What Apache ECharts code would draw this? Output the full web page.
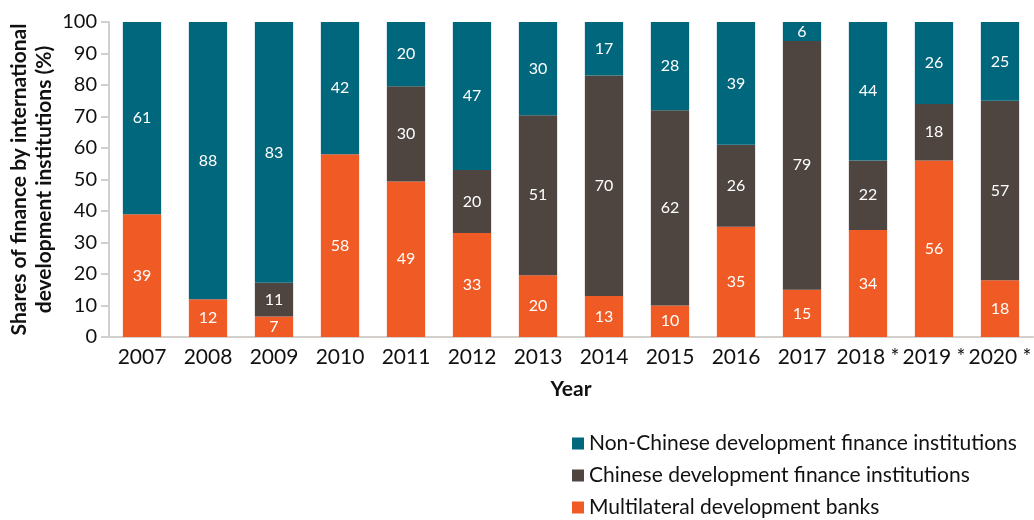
<!DOCTYPE html>
<html>
<head>
<meta charset="utf-8">
<script src="https://cdn.jsdelivr.net/npm/echarts@6/dist/echarts.min.js"></script>
<style>
  html, body { margin: 0; padding: 0; background: #fff; }
  #main { width: 1034px; height: 520px; }
</style>
</head>
<body>
<div id="main"></div>
<script>
// data (shares in %, labels are rounded)
var years = ['2007', '2008', '2009', '2010', '2011', '2012', '2013', '2014', '2015', '2016', '2017', '2018 *', '2019 *', '2020 *'];
var multilateral = [39, 12, 6.5, 58, 49.4, 33, 19.6, 13, 10, 35, 15, 34, 56, 18];
var chinese = [0, 0, 10.7, 0, 30.2, 20, 50.8, 70, 62, 26, 79, 22, 18, 57];
var nonChinese = [61, 88, 82.8, 42, 20.4, 47, 29.6, 17, 28, 39, 6, 44, 26, 25];
var yTicks = [0, 10, 20, 30, 40, 50, 60, 70, 80, 90, 100];

var myChart = echarts.init(document.getElementById('main'));
var font = 'Lato, "Open Sans", sans-serif';

function labelOpt() {
    return {
        show: true,
        color: '#fff',
        fontSize: 16,
        fontFamily: font,
        formatter: function (p) { return p.value > 0 ? Math.round(p.value) : ''; }
    };
}

var option = {
    animation: false,
    textStyle: { fontFamily: font },
    grid: { left: 109, right: 1, top: 22, bottom: 183, outerBoundsMode: 'none', containLabel: false },
    legend: {
        orient: 'vertical',
        left: 567,
        top: 428,
        width: 460,
        height: 100,
        itemWidth: 12,
        itemHeight: 12,
        itemGap: 11,
        icon: 'rect',
        data: ['Non-Chinese development finance institutions', 'Chinese development finance institutions', 'Multilateral development banks'],
        textStyle: { fontSize: 21, color: '#111', fontFamily: font }
    },
    xAxis: {
        type: 'category',
        data: years,
        name: 'Year',
        nameLocation: 'middle',
        nameGap: 42,
        nameTextStyle: { fontSize: 21, fontWeight: 'bold', color: '#111' },
        axisLine: { lineStyle: { color: '#d3cfcc', width: 2 } },
        axisTick: { show: false },
        axisLabel: { fontSize: 21, color: '#111', margin: 10, interval: 0 }
    },
    yAxis: {
        type: 'value',
        min: 0,
        max: 100,
        interval: 10,
        name: 'Shares of finance by international\ndevelopment institutions (%)',
        nameLocation: 'middle',
        nameGap: 52,
        nameMoveOverlap: false,
        nameTextStyle: { fontSize: 21, fontWeight: 'bold', color: '#111', lineHeight: 25 },
        axisLine: { show: true, lineStyle: { color: '#d3cfcc', width: 2 } },
        axisTick: { show: true, length: 8, lineStyle: { color: '#d3cfcc', width: 2 } },
        axisLabel: {
            fontSize: 20, color: '#111', margin: 12,
            formatter: function (v) { return yTicks.indexOf(v) >= 0 ? v : ''; }
        },
        splitLine: { show: false }
    },
    series: [
        {
            name: 'Multilateral development banks',
            type: 'bar',
            stack: 'total',
            barWidth: '58%',
            data: multilateral,
            itemStyle: { color: '#f05a24' },
            label: labelOpt()
        },
        {
            name: 'Chinese development finance institutions',
            type: 'bar',
            stack: 'total',
            data: chinese,
            itemStyle: { color: '#4e4541' },
            label: labelOpt()
        },
        {
            name: 'Non-Chinese development finance institutions',
            type: 'bar',
            stack: 'total',
            data: nonChinese,
            itemStyle: { color: '#00677c' },
            label: labelOpt()
        }
    ]
};

myChart.setOption(option);
</script>
</body>
</html>
